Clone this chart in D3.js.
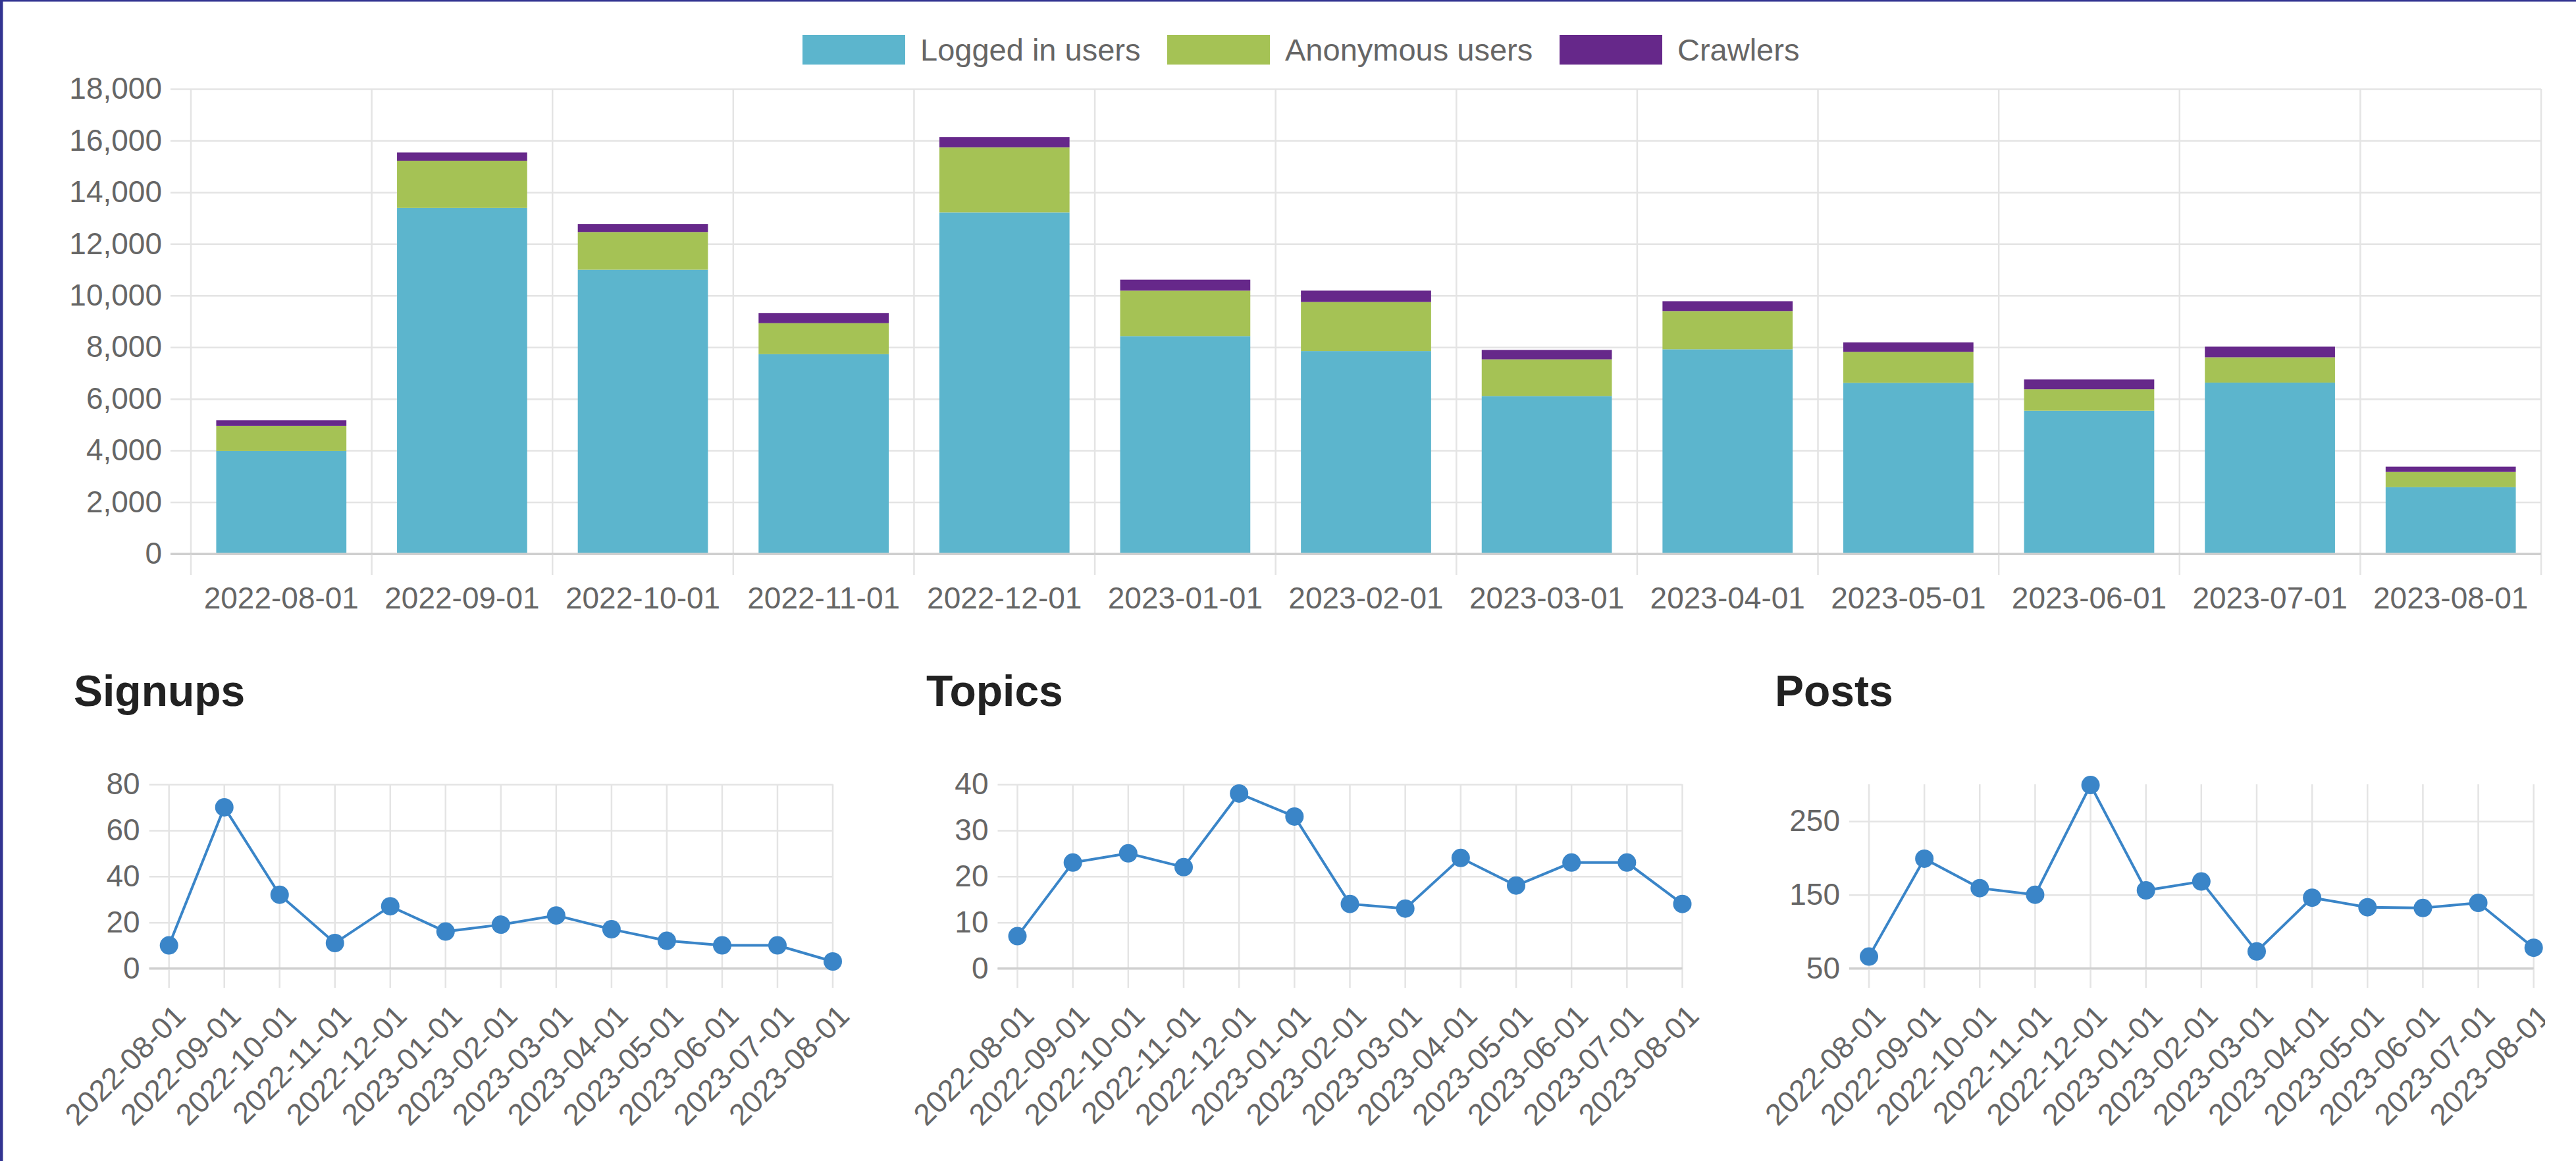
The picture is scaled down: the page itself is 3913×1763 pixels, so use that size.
<!DOCTYPE html>
<html>
<head>
<meta charset="utf-8">
<script src="https://cdn.jsdelivr.net/npm/d3@7"></script>
<style>
  html, body { margin: 0; padding: 0; background: #fff; }
  svg { display: block; }
  text { font-family: "Liberation Sans", Arial, Helvetica, sans-serif; }
</style>
</head>
<body>
<svg id="chart" width="3913" height="1763"></svg>
<script>
// ---------- data ----------
const months = ["2022-08-01","2022-09-01","2022-10-01","2022-11-01","2022-12-01","2023-01-01",
                "2023-02-01","2023-03-01","2023-04-01","2023-05-01","2023-06-01","2023-07-01","2023-08-01"];
const seriesNames = ["Logged in users", "Anonymous users", "Crawlers"];
const loggedIn  = [3980, 13390, 11000, 7730, 13220, 8430, 7850, 6110, 7920, 6620, 5540, 6630, 2580];
const anonymous = [ 970,  1830,  1460, 1200,  2520, 1760, 1900, 1420, 1480, 1200,  830,  980,  590];
const crawlers  = [ 220,   320,   310,  395,   395,  425,  440,  365,  380,  365,  380,  410,  205];
const trafficTicks = [0, 2000, 4000, 6000, 8000, 10000, 12000, 14000, 16000, 18000];

const signups = [10, 70, 32, 11, 27, 16, 19, 23, 17, 12, 10, 10, 3];
const signupTicks = [0, 20, 40, 60, 80];
const topics = [7, 23, 25, 22, 38, 33, 14, 13, 24, 18, 23, 23, 14];
const topicTicks = [0, 10, 20, 30, 40];
const posts = [66, 199, 159, 150, 299, 156, 168, 73, 146, 133, 132, 139, 78];
const postTicks = [50, 150, 250];

// ---------- styles ----------
const colors = ["#5cb5cd", "#a5c255", "#66288a"];
const lineColor = "#3a85c8";
const gridColor = "#e4e4e4";
const zeroColor = "#cfcfcf";
const labelColor = "#666";

const svg = d3.select("#chart");

// page border (left / top)
svg.append("rect").attr("x", 0).attr("y", 0).attr("width", 4.5).attr("height", 1763).attr("fill", "#323491");
svg.append("rect").attr("x", 0).attr("y", 0).attr("width", 3913).attr("height", 2.5).attr("fill", "#323491");

// ---------- top stacked bar chart ----------
const area = {left: 290, right: 3860, top: 135, bottom: 841};
const x = d3.scaleBand().domain(months).range([area.left, area.right]).paddingInner(0.28).paddingOuter(0.14);
const y = d3.scaleLinear().domain([0, 18000]).range([area.bottom, area.top]);

const table = months.map((m, i) => ({month: m, a: loggedIn[i], b: anonymous[i], c: crawlers[i]}));
const stacked = d3.stack().keys(["a", "b", "c"])(table);

// horizontal grid + y labels
const yAxis = d3.axisLeft(y).tickValues(trafficTicks).tickFormat(d3.format(","))
  .tickSizeInner(-(area.right - (area.left - 31))).tickSizeOuter(0).tickPadding(13);
const gy = svg.append("g").attr("transform", `translate(${area.left - 31},0)`).call(yAxis);
gy.select(".domain").remove();
gy.selectAll(".tick line").attr("stroke", d => d === 0 ? zeroColor : gridColor).attr("stroke-width", d => d === 0 ? 3 : 2.5);
gy.selectAll(".tick text").attr("fill", labelColor).attr("font-size", 46);

// vertical grid at band boundaries (with tick extension below)
const step = x.step();
const boundaries = months.map(m => x(m) - (step - x.bandwidth()) / 2).concat([area.right]);
svg.append("g").selectAll("line").data(boundaries).join("line")
  .attr("x1", d => d).attr("x2", d => d)
  .attr("y1", area.top).attr("y2", area.bottom + 32)
  .attr("stroke", gridColor).attr("stroke-width", 2.5);

// bars
svg.append("g").selectAll("g").data(stacked).join("g")
  .attr("fill", (d, i) => colors[i])
  .selectAll("rect").data(d => d).join("rect")
  .attr("x", d => x(d.data.month))
  .attr("width", x.bandwidth())
  .attr("y", d => y(d[1]))
  .attr("height", d => y(d[0]) - y(d[1]));

// zero line over bars bottom
svg.append("line").attr("x1", area.left - 31).attr("x2", area.right)
  .attr("y1", y(0)).attr("y2", y(0)).attr("stroke", zeroColor).attr("stroke-width", 3);

// x labels
const xAxis = d3.axisBottom(x).tickSize(0).tickPadding(50);
const gx = svg.append("g").attr("transform", `translate(0,${area.bottom})`).call(xAxis);
gx.select(".domain").remove();
gx.selectAll(".tick text").attr("fill", labelColor).attr("font-size", 46);

// legend (box positions as laid out in the reference)
const legendX = [1219, 1773, 2369];
const legend = svg.append("g");
seriesNames.forEach((name, i) => {
  legend.append("rect").attr("x", legendX[i]).attr("y", 53).attr("width", 156).attr("height", 45).attr("fill", colors[i]);
  legend.append("text").attr("x", legendX[i] + 156 + 23).attr("y", 75.5)
    .attr("dominant-baseline", "central").attr("font-size", 47).attr("fill", labelColor).text(name);
});

// ---------- small line charts ----------
function lineChart(opts) {
  const g = svg.append("g");
  if (opts.clip) {
    svg.append("clipPath").attr("id", opts.id + "clip").append("rect")
      .attr("x", 0).attr("y", 0).attr("width", opts.clip).attr("height", 1763);
    g.attr("clip-path", `url(#${opts.id}clip)`);
  }
  g.append("text").attr("x", opts.titleX).attr("y", 1072)
    .attr("font-size", 66).attr("font-weight", "bold").attr("fill", "#222").text(opts.title);

  const px = d3.scalePoint().domain(months).range([opts.x0, opts.x1]);
  const py = d3.scaleLinear().domain(opts.domain).range([1470.5, 1191]);

  const ya = d3.axisLeft(py).tickValues(opts.ticks).tickSizeInner(-(opts.x1 - (opts.x0 - 30))).tickSizeOuter(0).tickPadding(14);
  const gya = g.append("g").attr("transform", `translate(${opts.x0 - 30},0)`).call(ya);
  gya.select(".domain").remove();
  gya.selectAll(".tick line").attr("stroke", d => d === opts.domain[0] ? zeroColor : gridColor)
    .attr("stroke-width", d => d === opts.domain[0] ? 3 : 2.5);
  gya.selectAll(".tick text").attr("fill", labelColor).attr("font-size", 46);

  g.append("g").selectAll("line").data(months).join("line")
    .attr("x1", d => px(d)).attr("x2", d => px(d))
    .attr("y1", 1191).attr("y2", 1500)
    .attr("stroke", gridColor).attr("stroke-width", 2.5);
  g.append("line").attr("x1", opts.x0 - 30).attr("x2", opts.x1)
    .attr("y1", py(opts.domain[0])).attr("y2", py(opts.domain[0]))
    .attr("stroke", zeroColor).attr("stroke-width", 3);

  const xa = d3.axisBottom(px).tickSize(0);
  const gxa = g.append("g").attr("transform", "translate(0,1470)").call(xa);
  gxa.select(".domain").remove();
  gxa.selectAll(".tick text")
    .attr("fill", labelColor).attr("font-size", 46)
    .attr("y", null).attr("dy", null)
    .attr("text-anchor", "end").attr("dominant-baseline", "central")
    .attr("transform", "translate(16,64) rotate(-45)");

  const line = d3.line().x((d, i) => px(months[i])).y(d => py(d));
  g.append("path").datum(opts.values).attr("d", line)
    .attr("fill", "none").attr("stroke", lineColor).attr("stroke-width", 4);
  g.append("g").selectAll("circle").data(opts.values).join("circle")
    .attr("cx", (d, i) => px(months[i])).attr("cy", d => py(d)).attr("r", 14)
    .attr("fill", lineColor);
}

lineChart({id: "s", title: "Signups", titleX: 112, x0: 256.7, x1: 1265, domain: [0, 80], ticks: signupTicks, values: signups});
lineChart({id: "t", title: "Topics", titleX: 1407, x0: 1545.5, x1: 2555.5, domain: [0, 40], ticks: topicTicks, values: topics});
lineChart({id: "p", title: "Posts", titleX: 2696, x0: 2839, x1: 3848.7, domain: [50, 300], ticks: postTicks, values: posts, clip: 3866});
</script>
</body>
</html>
